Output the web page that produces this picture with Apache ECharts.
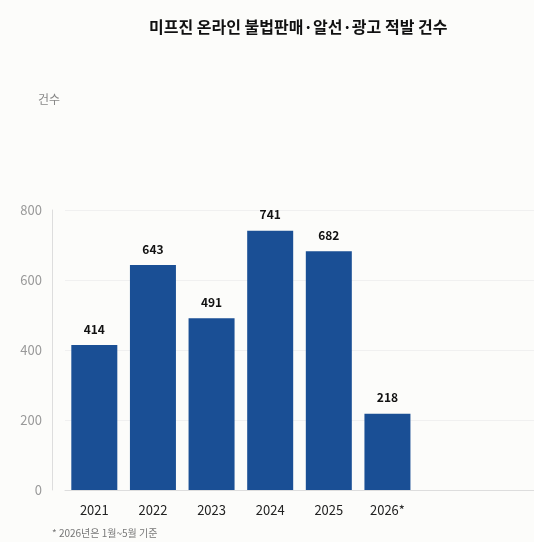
<!DOCTYPE html>
<html><head><meta charset="utf-8">
<script src="https://cdn.jsdelivr.net/npm/echarts@6/dist/echarts.min.js"></script>
<style>body{margin:0;background:#fcfcfa}#c{width:534px;height:542px}</style>
</head><body><div id="c"></div>
<script>
const categories = ['2021','2022','2023','2024','2025','2026*','',''];
const values = [414,643,491,741,682,218,null,null];
const yTicks = [0,200,400,600,800];
const f = '"Noto Sans CJK KR", "Noto Sans", sans-serif';
const chart = echarts.init(document.getElementById('c'));
chart.setOption({
  backgroundColor:'#fcfcfa',
  textStyle:{fontFamily:f},
  title:{text:'미프진 온라인 불법판매·알선·광고 적발 건수',left:144,top:14,textStyle:{fontSize:16,fontWeight:'bold',color:'#111',fontFamily:f}},
  graphic:[
    {type:'text',left:38,top:93,style:{text:'건수',fontSize:12,fill:'#888',fontFamily:f}},
    {type:'text',left:52,top:528,style:{text:'* 2026년은 1월~5월 기준',fontSize:10,fill:'#777',fontFamily:f}}
  ],
  grid:{left:65,width:480,top:210,bottom:52},
  xAxis:{type:'category',data:categories,axisTick:{show:false},
    axisLine:{lineStyle:{color:'#ddd'}},axisLabel:{color:'#222',fontSize:13,margin:14}},
  yAxis:{type:'value',min:yTicks[0],max:yTicks[yTicks.length-1],interval:200,offset:13,
    axisLine:{show:true,lineStyle:{color:'#ddd'}},
    splitLine:{lineStyle:{color:'#f0f0f0'}},axisLabel:{color:'#999',fontSize:13,margin:10}},
  series:[{type:'bar',data:values,barWidth:46,itemStyle:{color:'#1a4f95'},
    label:{show:true,position:'top',distance:10,color:'#111',fontSize:12,fontWeight:'bold'}}]
});
</script></body></html>
